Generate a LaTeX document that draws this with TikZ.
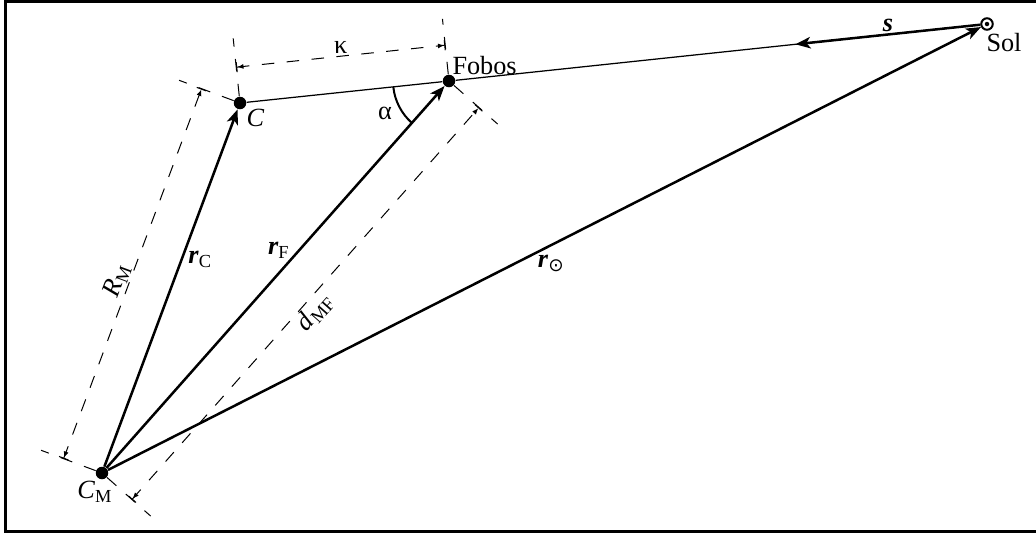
\documentclass[tikz,border=0pt]{standalone}
\usepackage{fontspec}
\setmainfont{Liberation Serif}
\newfontfamily\symfont{DejaVu Sans}
\usetikzlibrary{arrows.meta,calc}

\tikzset{
  dot/.style={circle,fill,inner sep=0pt,minimum size=5pt},
  vec/.style={line width=1pt,-{Stealth[length=6pt,width=4.6pt,inset=1.6pt]}},
  dimline/.style={line width=0.4pt,dash pattern=on 5pt off 5pt},
  dimarrow/.style={dimline,{Bar[width=4pt]Latex[length=2.5pt,width=2pt]}-{Latex[length=2.5pt,width=2pt]Bar[width=4pt]}},
}

\begin{document}
\begin{tikzpicture}[x=0.4pt,y=-0.4pt,font=\fontsize{10.5}{12.5}\selectfont]
    \clip (0,0) rectangle (1036,534);
    \draw[line width=1.2pt] (5.5,1.5) rectangle (1050,531.5);

    \node[dot] (CM) at (102,473) {};
    \node[dot] (C) at (240,103) {};
    \node[dot] (F) at (449,81) {};
    \node[circle,draw,line width=0.8pt,inner sep=0pt,minimum size=4.6pt] (Sol) at (987,24) {};
    \fill (Sol) circle[radius=0.9pt];

    \node[anchor=north west,inner sep=0.5pt] (Clab) at (C.south east) {\textit{C}};
    \node[anchor=south west,inner sep=0.5pt,xshift=-1.2pt] (Flab) at (F.north east) {Fobos};
    \node[anchor=north,inner sep=0.5pt,xshift=-2.8pt] (CMlab) at (CM.south) {\textit{C}\textsubscript{M}};
    \node[anchor=north west,inner sep=0pt,xshift=-0.4pt,yshift=-1pt] (Sollab) at (Sol.south) {Sol};
    \node (alpha) at ($(F)+(-64,32)$) {α};

    \draw[line width=0.5pt] (C) -- (F) -- (Sol);
    \draw[line width=0.8pt] ($(F)!22.4pt!(C)$) arc[start angle=186,end angle=228.5,radius=22.4pt];

    \draw[vec] (CM) to node[pos=0.58,right=1.2pt,inner sep=1pt] {\textbf{\textit{r}}\textsubscript{C}} (C);
    \draw[vec] (CM) to node[pos=0.57,left=2.2pt,inner sep=1pt] {\textbf{\textit{r}}\textsubscript{F}} (F);
    \draw[vec] (CM) to node[pos=0.508,below=2.5pt,inner sep=1pt] {\textbf{\textit{r}}\textsubscript{\symfont ⊙}} (Sol);
    \coordinate (stip) at ($(Sol)!0.356!(F)$);
    \draw[vec] (Sol) to node[midway,above,inner sep=0.5pt] {\textbf{\textit{s}}} (stip);

    \coordinate (rm1) at ($(CM)!16.4pt!90:(C)$);
    \coordinate (rm2) at ($(C)!16.4pt!-90:(CM)$);
    \draw[dimline] (CM) -- ($(CM)!26pt!90:(C)$);
    \draw[dimline] (C) -- ($(C)!26pt!-90:(CM)$);
    \draw[dimarrow] (rm1) to node[pos=0.47,sloped,above,inner sep=0.5pt] {\textit{R}\textsubscript{M}} (rm2);

    \coordinate (k1) at ($(C)!14.4pt!90:(F)$);
    \coordinate (k2) at ($(F)!14.4pt!-90:(C)$);
    \draw[dimline] (C) -- ($(C)!26pt!90:(F)$);
    \draw[dimline] (F) -- ($(F)!25pt!-90:(C)$);
    \draw[dimarrow] (k1) to node[midway,above,inner sep=1pt] {κ} (k2);

    \coordinate (d1) at ($(CM)!16pt!-90:(F)$);
    \coordinate (d2) at ($(F)!16pt!90:(CM)$);
    \draw[dimline] (CM) -- ($(CM)!26pt!-90:(F)$);
    \draw[dimline] (F) -- ($(F)!26pt!90:(CM)$);
    \draw[dimarrow] (d1) to node[pos=0.5,sloped,below,inner sep=0.5pt] {\textit{d}\textsubscript{MF}} (d2);
\end{tikzpicture}
\end{document}
